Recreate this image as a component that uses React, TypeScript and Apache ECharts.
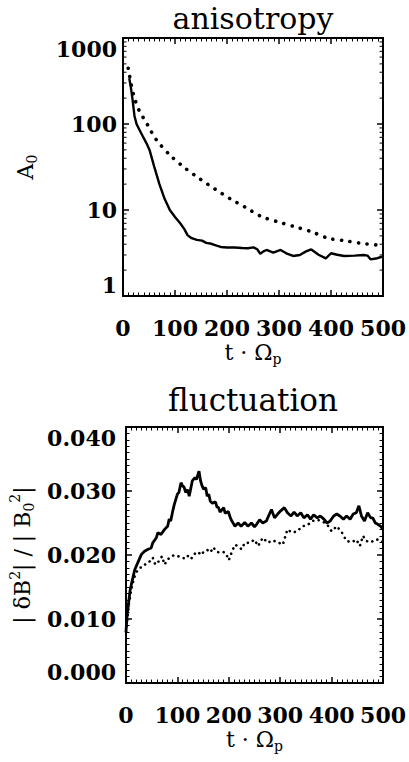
import React, { useEffect, useRef } from "react";
import * as echarts from "echarts";

// ---- anisotropy panel (top) ----
const aSolidT = [12, 15, 18, 22, 26, 35, 45, 51, 60, 70, 80, 90, 100, 110, 118, 124, 132, 142, 152, 160, 170, 180, 188, 200, 215, 229, 240, 251, 258, 264, 270, 276, 289, 303, 314, 327, 340, 352, 362, 376, 390, 400, 412, 425, 445, 463, 470, 476, 489, 498];
const aSolidV = [340, 270, 200, 125, 100, 78, 60, 50, 32, 20, 13.5, 10, 8.3, 7, 6, 5.1, 4.7, 4.5, 4.4, 4.15, 4.05, 3.85, 3.72, 3.66, 3.66, 3.62, 3.59, 3.68, 3.5, 3.1, 3.3, 3.43, 3.2, 3.43, 3.14, 2.92, 3.0, 3.3, 3.48, 3.02, 2.74, 3.14, 3.02, 2.92, 2.95, 3.0, 2.95, 2.67, 2.75, 2.86];
const aDotT = [10, 20, 32, 42, 51, 60, 70, 92, 120, 148, 177, 207, 235, 266, 297, 330, 362, 394, 426, 458, 492];
const aDotV = [445, 220, 139, 111, 89, 71, 59, 42.5, 30.5, 23, 17.5, 13.4, 10.8, 8.4, 7.3, 6.4, 5.6, 4.7, 4.4, 4.1, 3.9];
const logMinor = [2, 3, 4, 5, 6, 7, 8, 9, 20, 30, 40, 50, 60, 70, 80, 90, 200, 300, 400, 500, 600, 700, 800, 900];

// ---- fluctuation panel (bottom) ----
const fSolidT = [0, 2, 5, 8, 11, 17, 24, 30, 36, 43, 49, 52, 59, 62, 68, 75, 81, 84, 87, 91, 94, 100, 103, 107, 110, 113, 116, 120, 123, 129, 134, 137, 142, 145, 148, 151, 155, 158, 161, 164, 168, 174, 177, 180, 183, 190, 193, 199, 203, 206, 212, 218, 224, 231, 237, 244, 250, 254, 260, 266, 273, 279, 283, 289, 295, 301, 308, 314, 321, 327, 333, 340, 346, 353, 359, 365, 372, 378, 385, 391, 397, 404, 410, 416, 423, 429, 436, 442, 448, 453, 458, 464, 470, 476, 480, 485, 490, 495, 500];
const fSolidV = [0.008, 0.0105, 0.0125, 0.0145, 0.0156, 0.0177, 0.019, 0.0201, 0.0206, 0.0209, 0.0211, 0.0219, 0.0227, 0.0235, 0.0232, 0.024, 0.0245, 0.0256, 0.0253, 0.0269, 0.0279, 0.0295, 0.0298, 0.0313, 0.0308, 0.0306, 0.0298, 0.0302, 0.0292, 0.0316, 0.0321, 0.0318, 0.0331, 0.0316, 0.0308, 0.0303, 0.0305, 0.0292, 0.0295, 0.0284, 0.0281, 0.0283, 0.0275, 0.0274, 0.0267, 0.0274, 0.0265, 0.0268, 0.0258, 0.0253, 0.0245, 0.025, 0.0245, 0.0251, 0.0245, 0.025, 0.0244, 0.0248, 0.0255, 0.025, 0.0253, 0.0264, 0.0271, 0.0258, 0.0264, 0.0269, 0.0274, 0.0266, 0.0261, 0.0267, 0.0261, 0.0266, 0.0258, 0.0263, 0.0256, 0.0263, 0.0258, 0.0261, 0.0256, 0.025, 0.0253, 0.0261, 0.0264, 0.0261, 0.0256, 0.0261, 0.0256, 0.0264, 0.0266, 0.0277, 0.0261, 0.0253, 0.0266, 0.0258, 0.0258, 0.025, 0.0248, 0.0245, 0.024];
const fDotT = [0, 5, 10, 15, 19, 27, 34, 40, 46, 52, 57, 65, 70, 75, 81, 88, 95, 102, 109, 116, 122, 128, 134, 140, 146, 152, 158, 164, 170, 176, 182, 188, 194, 200, 206, 212, 219, 225, 231, 241, 250, 257, 266, 276, 285, 295, 305, 314, 323, 333, 343, 352, 362, 372, 381, 391, 400, 410, 420, 429, 439, 448, 455, 461, 467, 477, 484, 493, 500];
const fDotV = [0.008, 0.012, 0.0145, 0.0162, 0.0172, 0.018, 0.0182, 0.0188, 0.019, 0.0196, 0.0185, 0.0191, 0.0198, 0.0185, 0.0193, 0.0198, 0.02, 0.0198, 0.0196, 0.0194, 0.02, 0.0195, 0.0202, 0.0205, 0.02, 0.0206, 0.0208, 0.0204, 0.0212, 0.0205, 0.0204, 0.0205, 0.0203, 0.0192, 0.0205, 0.0216, 0.0213, 0.0209, 0.0219, 0.0219, 0.0224, 0.0214, 0.0227, 0.0219, 0.0223, 0.022, 0.0216, 0.024, 0.0235, 0.0237, 0.0245, 0.0246, 0.0253, 0.0255, 0.0253, 0.0248, 0.0237, 0.0245, 0.0235, 0.0222, 0.022, 0.0224, 0.0214, 0.023, 0.0222, 0.022, 0.0224, 0.0224, 0.022];

const fTicks = [0, 0.01, 0.02, 0.03, 0.04];
const xTicks = [0, 100, 200, 300, 400, 500];

const zip = (a: number[], b: number[]) => a.map((t, i) => [t, b[i]]);

const FONT = "'DejaVu Serif', serif";
const BLACK = "#000";

const richName = {
  n: { fontFamily: FONT, fontSize: 22, color: BLACK, lineHeight: 28, verticalAlign: "middle" as const },
  sub: { fontFamily: FONT, fontSize: 14, color: BLACK, lineHeight: 28, verticalAlign: "bottom" as const },
  sup: { fontFamily: FONT, fontSize: 14, color: BLACK, lineHeight: 28, verticalAlign: "top" as const },
};

function xAxisPair(grid: number) {
  const base = {
    gridIndex: grid,
    type: "value" as const,
    min: xTicks[0],
    max: xTicks[xTicks.length - 1],
    interval: 100,
    axisLine: { show: true, onZero: false, lineStyle: { color: BLACK, width: 2 } },
    axisTick: { show: true, inside: true, length: 6, lineStyle: { color: BLACK, width: 1.5 } },
    minorTick: { show: true, splitNumber: 10, length: 3.5, lineStyle: { color: BLACK, width: 1 } },
    splitLine: { show: false },
  };
  return [
    {
      ...base,
      position: "bottom",
      axisLabel: { margin: 21, color: BLACK, fontFamily: FONT, fontSize: 22, fontWeight: "bold" },
      name: "{n|t · Ω}{sub|p}",
      nameLocation: "middle",
      nameGap: 42,
      nameTextStyle: { rich: richName },
    },
    { ...base, position: "top", axisLabel: { show: false } },
  ];
}

export default function App() {
  const ref = useRef<HTMLDivElement>(null);
  useEffect(() => {
    if (!ref.current) return;
    const chart = echarts.init(ref.current, undefined, { renderer: "svg" });

    const yCommon = {
      axisLine: { show: true, onZero: false, lineStyle: { color: BLACK, width: 2 } },
      axisTick: { show: true, inside: true, length: 6, lineStyle: { color: BLACK, width: 1.5 } },
      splitLine: { show: false },
    };
    const labelStyle = { color: BLACK, fontFamily: FONT, fontSize: 22, fontWeight: "bold" };

    const option: any = {
      animation: false,
      backgroundColor: "#fff",
      grid: [
        { left: 123, top: 38, width: 263, height: 258 },
        { left: 126, top: 427, width: 261, height: 256 },
      ],
      xAxis: [...xAxisPair(0), ...xAxisPair(1)],
      yAxis: [
        {
          ...yCommon,
          gridIndex: 0,
          type: "log",
          logBase: 10,
          min: 1,
          max: 1000,
          position: "left",
          axisLabel: {
            ...labelStyle,
            margin: 6,
            verticalAlignMaxLabel: "top",
            verticalAlignMinLabel: "bottom",
            formatter: (v: number) => String(Math.round(v)),
          },
          name: "{n|A}{sub|0}",
          nameLocation: "middle",
          nameRotate: 90,
          nameGap: 84,
          nameTextStyle: { rich: richName },
        },
        { ...yCommon, gridIndex: 0, type: "log", logBase: 10, min: 1, max: 1000, position: "right", axisLabel: { show: false } },
        {
          ...yCommon,
          gridIndex: 1,
          type: "value",
          min: fTicks[0],
          max: fTicks[fTicks.length - 1],
          interval: 0.01,
          position: "left",
          minorTick: { show: true, splitNumber: 10, length: 3.5, lineStyle: { color: BLACK, width: 1 } },
          axisLabel: {
            ...labelStyle,
            margin: 10,
            verticalAlignMaxLabel: "top",
            verticalAlignMinLabel: "bottom",
            formatter: (v: number) => v.toFixed(3),
          },
          name: "{n|| δB}{sup|2}{n|| / | B}{sub|0}{sup|2}{n||}",
          nameLocation: "middle",
          nameRotate: 90,
          nameGap: 88,
          nameTextStyle: { rich: richName },
        },
        {
          ...yCommon,
          gridIndex: 1,
          type: "value",
          min: fTicks[0],
          max: fTicks[fTicks.length - 1],
          interval: 0.01,
          position: "right",
          minorTick: { show: true, splitNumber: 10, length: 3.5, lineStyle: { color: BLACK, width: 1 } },
          axisLabel: { show: false },
        },
      ],
      graphic: [
        {
          type: "text",
          x: 253,
          y: 18,
          style: { text: "anisotropy", font: "30px 'DejaVu Serif'", fill: BLACK, textAlign: "center", textVerticalAlign: "middle", align: "center", verticalAlign: "middle" },
        },
        {
          type: "text",
          x: 253,
          y: 400,
          style: { text: "fluctuation", font: "31px 'DejaVu Serif'", fill: BLACK, textAlign: "center", textVerticalAlign: "middle", align: "center", verticalAlign: "middle" },
        },
      ],
      series: [
        {
          type: "line",
          xAxisIndex: 0,
          yAxisIndex: 0,
          data: zip(aSolidT, aSolidV),
          showSymbol: false,
          lineStyle: { color: BLACK, width: 2.4 },
        },
        {
          type: "line",
          xAxisIndex: 0,
          yAxisIndex: 0,
          data: zip(aDotT, aDotV),
          showSymbol: false,
          smooth: 0.3,
          lineStyle: { color: BLACK, width: 3.6, type: [0.1, 8.5], cap: "round" },
        },
        {
          type: "custom",
          xAxisIndex: 0,
          yAxisIndex: 0,
          silent: true,
          clip: false,
          data: logMinor.map((v) => [0, v]),
          encode: { x: 0, y: 1 },
          renderItem: (params: any, api: any) => {
            const v = api.value(1);
            const p = api.coord([0, v]);
            const q = api.coord([500, v]);
            return {
              type: "group",
              children: [
                { type: "line", shape: { x1: p[0], y1: p[1], x2: p[0] + 3.5, y2: p[1] }, style: { stroke: BLACK, lineWidth: 1 } },
                { type: "line", shape: { x1: q[0] - 3.5, y1: q[1], x2: q[0], y2: q[1] }, style: { stroke: BLACK, lineWidth: 1 } },
              ],
            };
          },
        },
        {
          type: "line",
          xAxisIndex: 2,
          yAxisIndex: 2,
          data: zip(fSolidT, fSolidV),
          showSymbol: false,
          lineStyle: { color: BLACK, width: 2.8 },
        },
        {
          type: "line",
          xAxisIndex: 2,
          yAxisIndex: 2,
          data: zip(fDotT, fDotV),
          showSymbol: false,
          lineStyle: { color: BLACK, width: 2.6, type: [0.1, 5.5], cap: "round" },
        },
      ],
    };
    chart.setOption(option);
    return () => chart.dispose();
  }, []);
  return <div ref={ref} style={{ position: "fixed", left: 0, top: 0, width: 409, height: 762, background: "#fff" }} />;
}
